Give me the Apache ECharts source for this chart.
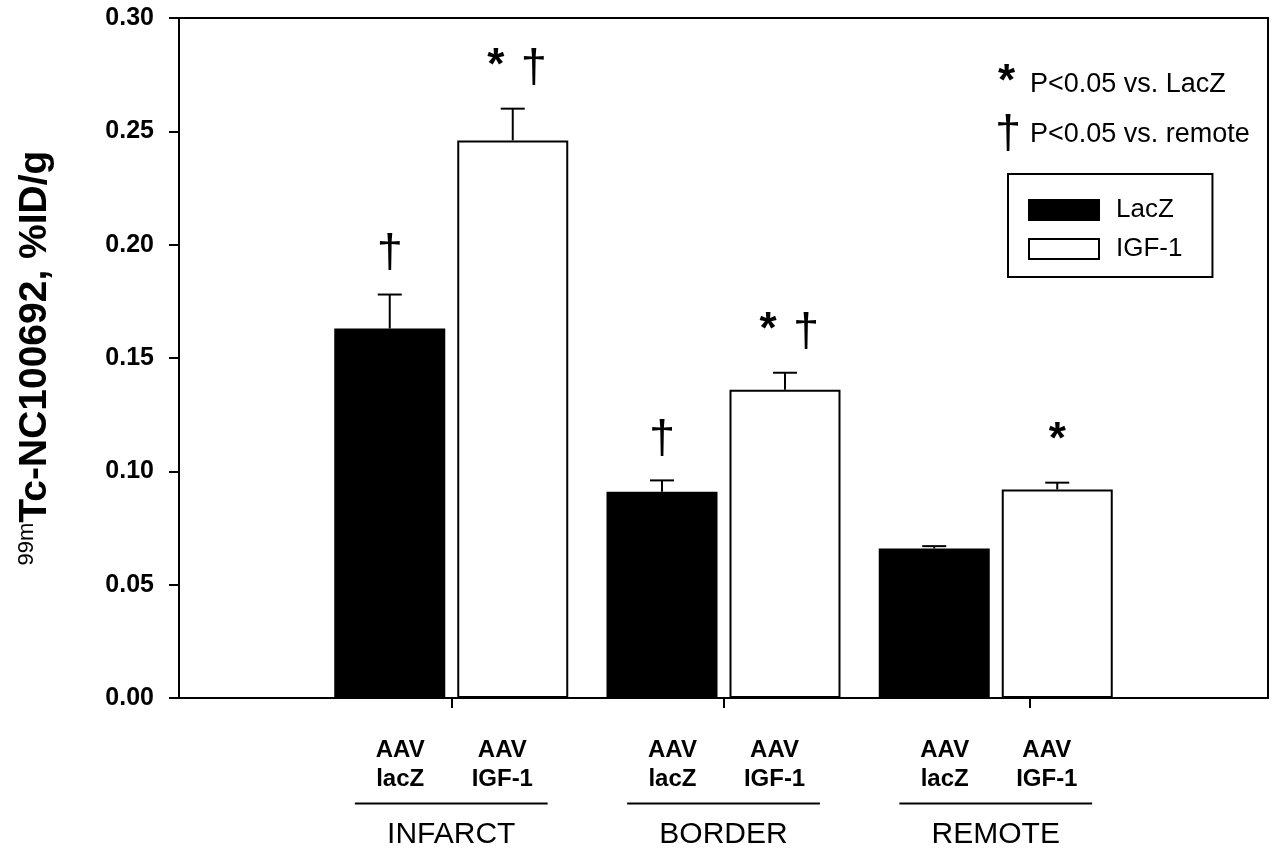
<!DOCTYPE html>
<html>
<head>
<meta charset="utf-8">
<script src="https://cdn.jsdelivr.net/npm/echarts@6/dist/echarts.min.js"></script>
<style>
  html, body { margin: 0; padding: 0; background: #fff; }
  #chart { width: 1277px; height: 854px; }
</style>
</head>
<body>
<div id="chart"></div>
<script>
// groups on the x axis (padded with empty slots at both ends)
const groups = ['INFARCT', 'BORDER', 'REMOTE'];
const lacZMean = [0.163, 0.091, 0.066];
const lacZErr = [0.015, 0.005, 0.001];
const igfMean = [0.246, 0.136, 0.092];
const igfErr = [0.014, 0.0075, 0.003];
// significance marks above each bar
const lacZMarks = [['†'], ['†'], []];
const igfMarks = [['*', '†'], ['*', '†'], ['*']];
// sub labels under each bar, tick marks on the bottom axis
const subLabelPos = [0.8125, 1.1875, 1.8125, 2.1875, 2.8125, 3.1875];
const subLabels = ['AAV\nlacZ', 'AAV\nIGF-1', 'AAV\nlacZ', 'AAV\nIGF-1', 'AAV\nlacZ', 'AAV\nIGF-1'];
const tickPos = [1, 2, 3.125];
const yTicks = { min: 0, max: 0.3, interval: 0.05 };

const FONT = '"Liberation Sans", Arial, sans-serif';
const BAR_W = 111;
const BAR_GAP = 12;
const OFF = (BAR_W + BAR_GAP) / 2;

const categories = [''].concat(groups, ['']);
const pad = arr => ['-'].concat(arr, ['-']);

function errRenderer(means, errs, marks, sign) {
  return function (params, api) {
    const i = params.dataIndex;
    const base = api.coord([api.value(0), api.value(1)]);
    const top = api.coord([api.value(0), api.value(1) + api.value(2)]);
    const x = base[0] + sign * OFF;
    const children = [
      { type: 'line', shape: { x1: x, y1: base[1], x2: x, y2: top[1] }, style: { stroke: '#000', lineWidth: 2 } },
      { type: 'line', shape: { x1: x - 12, y1: top[1], x2: x + 12, y2: top[1] }, style: { stroke: '#000', lineWidth: 2 } }
    ];
    const m = marks[i];
    m.forEach((s, k) => {
      let dx = 0;
      if (m.length === 2) dx = k === 0 ? -17 : 21;
      const isStar = s === '*';
      children.push({
        type: 'text',
        style: {
          text: s, x: x + dx, y: top[1] - (isStar ? 42 : 40),
          align: 'center', verticalAlign: 'middle',
          font: isStar ? 'bold 44px ' + FONT : '47px ' + FONT, fill: '#000'
        }
      });
    });
    return { type: 'group', children: children };
  };
}

const chart = echarts.init(document.getElementById('chart'));
chart.setOption({
  animation: false,
  backgroundColor: '#fff',
  textStyle: { fontFamily: FONT, color: '#000' },
  grid: { left: 179, right: 9, top: 18, bottom: 156, show: true, borderColor: '#000', borderWidth: 2 },
  legend: {
    orient: 'vertical',
    left: 1008, top: 174,
    padding: [23, 30, 15, 20],
    itemWidth: 70, itemHeight: 20, itemGap: 13,
    borderColor: '#000', borderWidth: 2,
    icon: 'rect',
    data: ['LacZ', 'IGF-1'],
    textStyle: { fontSize: 26, color: '#000', fontFamily: FONT, padding: [0, 0, 0, 12] }
  },
  xAxis: [
    {
      type: 'category',
      data: categories,
      boundaryGap: false,
      axisLine: { lineStyle: { color: '#000', width: 2 } },
      axisTick: { show: false },
      axisLabel: { interval: 0, margin: 122, fontSize: 30, color: '#000', fontFamily: FONT }
    },
    {
      type: 'value',
      min: 0, max: 4,
      position: 'bottom',
      axisLine: { show: false },
      splitLine: { show: false },
      axisTick: { show: true, customValues: tickPos, length: 10, lineStyle: { color: '#000', width: 2 } },
      axisLabel: {
        customValues: subLabelPos,
        margin: 38,
        fontSize: 24, fontWeight: 'bold', lineHeight: 29, color: '#000', fontFamily: FONT,
        formatter: v => {
          let best = 0;
          subLabelPos.forEach((p, k) => { if (Math.abs(p - v) < Math.abs(subLabelPos[best] - v)) best = k; });
          return subLabels[best];
        }
      }
    }
  ],
  yAxis: {
    type: 'value',
    min: yTicks.min, max: yTicks.max, interval: yTicks.interval,
    axisLine: { show: true, lineStyle: { color: '#000', width: 2 } },
    axisTick: { show: true, length: 10, lineStyle: { color: '#000', width: 2 } },
    splitLine: { show: false },
    axisLabel: { margin: 25, fontSize: 25, fontWeight: 'bold', color: '#000', fontFamily: FONT, formatter: v => v.toFixed(2) },
    name: '{sup|99m}{main|Tc-NC100692, %ID/g}',
    nameLocation: 'middle',
    nameGap: 124,
    nameTextStyle: {
      fontFamily: FONT,
      rich: {
        sup: { fontSize: 22, verticalAlign: 'top', fontFamily: FONT, color: '#000' },
        main: { fontSize: 39, fontWeight: 'bold', fontFamily: FONT, color: '#000' }
      }
    }
  },
  series: [
    {
      name: 'LacZ', type: 'bar', data: pad(lacZMean),
      barWidth: BAR_W, barGap: (BAR_GAP / BAR_W * 100) + '%',
      itemStyle: { color: '#000', borderColor: '#000', borderWidth: 2 }
    },
    {
      name: 'IGF-1', type: 'bar', data: pad(igfMean),
      barWidth: BAR_W,
      itemStyle: { color: '#fff', borderColor: '#000', borderWidth: 2 }
    },
    {
      type: 'custom', name: 'lacZErr',
      renderItem: errRenderer(lacZMean, lacZErr, lacZMarks, -1),
      data: lacZMean.map((m, i) => [i + 1, m, lacZErr[i]]),
      z: 5, silent: true
    },
    {
      type: 'custom', name: 'igfErr',
      renderItem: errRenderer(igfMean, igfErr, igfMarks, 1),
      data: igfMean.map((m, i) => [i + 1, m, igfErr[i]]),
      z: 5, silent: true
    },
    {
      type: 'custom', name: 'groupLines',
      xAxisIndex: 1,
      renderItem: (params, api) => {
        const a = api.coord([api.value(0) - 0.354, 0]);
        const b = api.coord([api.value(0) + 0.354, 0]);
        return { type: 'line', shape: { x1: a[0], y1: a[1] + 105.5, x2: b[0], y2: b[1] + 105.5 }, style: { stroke: '#000', lineWidth: 2 } };
      },
      data: groups.map((g, i) => [i + 1]),
      silent: true
    }
  ],
  graphic: [
    { type: 'text', left: 998, top: 61, style: { text: '*', font: 'bold 44px ' + FONT, fill: '#000' } },
    { type: 'text', left: 1030, top: 71, style: { text: 'P<0.05 vs. LacZ', font: '27px ' + FONT, fill: '#000' } },
    { type: 'text', left: 995, top: 112, style: { text: '†', font: '47px ' + FONT, fill: '#000' } },
    { type: 'text', left: 1030, top: 121, style: { text: 'P<0.05 vs. remote', font: '27px ' + FONT, fill: '#000' } }
  ]
});
</script>
</body>
</html>
